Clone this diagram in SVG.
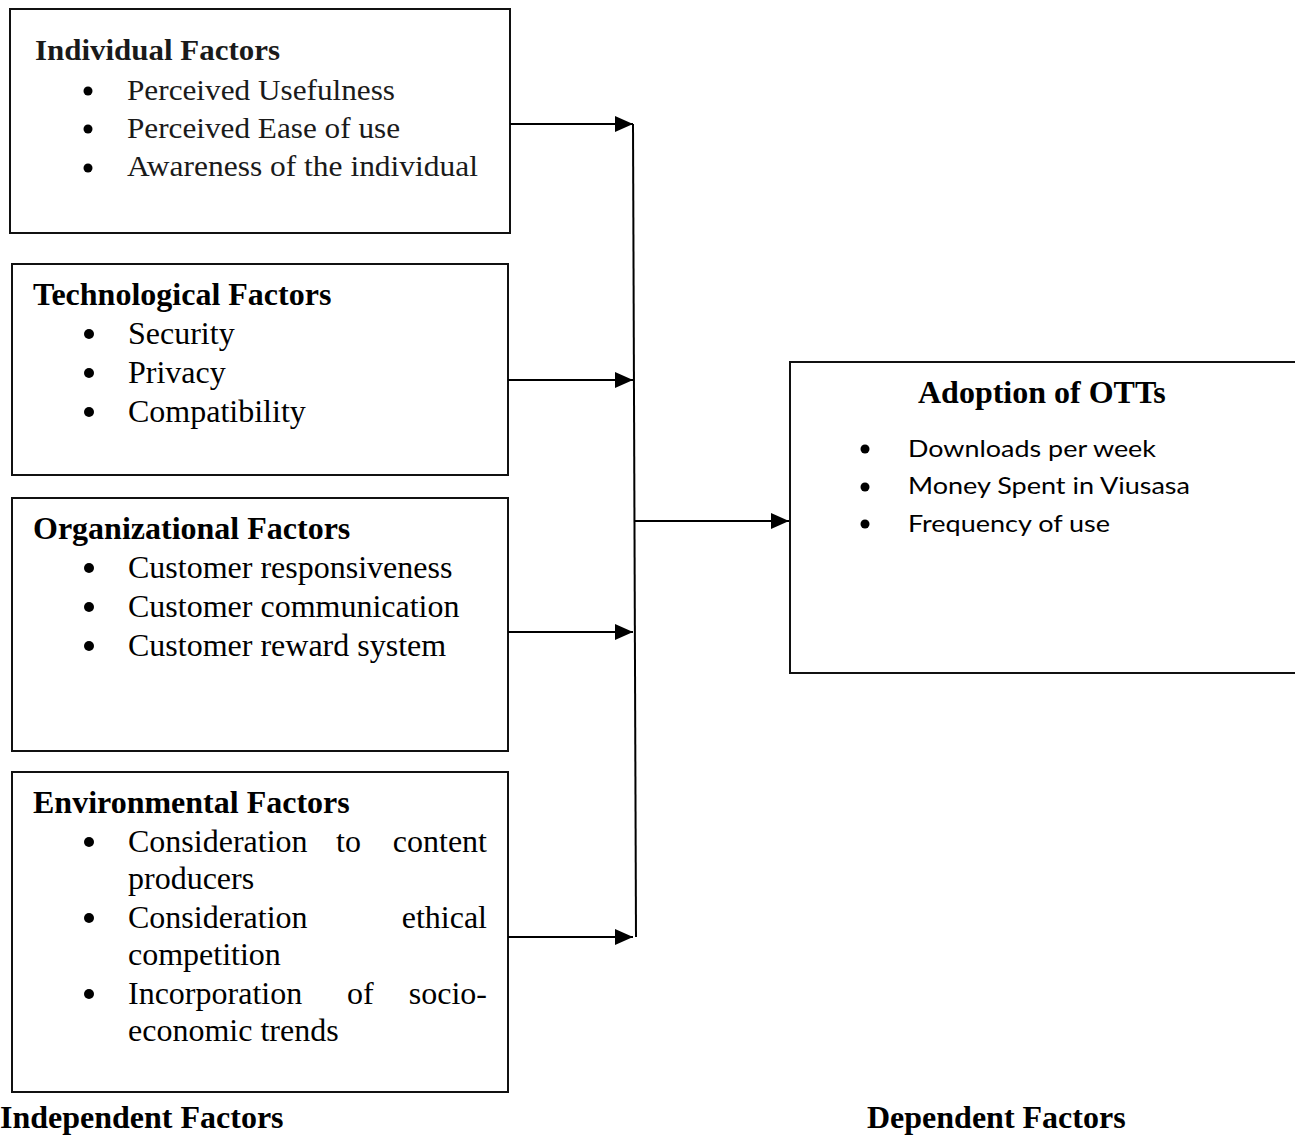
<svg xmlns="http://www.w3.org/2000/svg" width="1295" height="1135" viewBox="0 0 1295 1135">
<style>
.box{fill:#fff;stroke:#111;stroke-width:2}
.hd{font-family:"Liberation Serif","Times New Roman",serif;font-weight:bold;font-size:32px;fill:#000}
.tx{font-family:"Liberation Serif","Times New Roman",serif;font-size:32px;fill:#000}
.hd1{font-family:"Liberation Serif","Times New Roman",serif;font-weight:bold;font-size:30px;fill:#1a1a1a}
.tx1{font-family:"Liberation Serif","Times New Roman",serif;font-size:30px;fill:#1a1a1a}
.cb{font-family:Lato,"Open Sans","Liberation Sans",sans-serif;font-size:24px;fill:#000}
.ln{stroke:#000;stroke-width:2;fill:none}
.bul{fill:#000}
</style>
<defs>
<marker id="ah" markerUnits="userSpaceOnUse" markerWidth="18" markerHeight="16" refX="18" refY="8" orient="auto">
<path d="M0,0 L18,8 L0,16 Z" fill="#000"/>
</marker>
</defs>

<g id="individual">
<rect class="box" x="10" y="9" width="500" height="224"/>
<text class="hd1" x="35" y="60" textLength="245" lengthAdjust="spacingAndGlyphs">Individual Factors</text>
<circle class="bul" cx="88" cy="91" r="4.5"/>
<circle class="bul" cx="88" cy="129" r="4.5"/>
<circle class="bul" cx="88" cy="168" r="4.5"/>
<text class="tx1" x="127" y="100" textLength="268" lengthAdjust="spacingAndGlyphs">Perceived Usefulness</text>
<text class="tx1" x="127" y="138" textLength="273" lengthAdjust="spacingAndGlyphs">Perceived Ease of use</text>
<text class="tx1" x="127" y="176" textLength="351" lengthAdjust="spacingAndGlyphs">Awareness of the individual</text>
</g>

<g id="technological">
<rect class="box" x="12" y="264" width="496" height="211"/>
<text class="hd" x="33" y="305">Technological Factors</text>
<circle class="bul" cx="89" cy="334" r="5"/>
<circle class="bul" cx="89" cy="373" r="5"/>
<circle class="bul" cx="89" cy="412" r="5"/>
<text class="tx" x="128" y="344">Security</text>
<text class="tx" x="128" y="383">Privacy</text>
<text class="tx" x="128" y="422">Compatibility</text>
</g>

<g id="organizational">
<rect class="box" x="12" y="498" width="496" height="253"/>
<text class="hd" x="33" y="539">Organizational Factors</text>
<circle class="bul" cx="89" cy="568" r="5"/>
<circle class="bul" cx="89" cy="607" r="5"/>
<circle class="bul" cx="89" cy="646" r="5"/>
<text class="tx" x="128" y="578">Customer responsiveness</text>
<text class="tx" x="128" y="617">Customer communication</text>
<text class="tx" x="128" y="656">Customer reward system</text>
</g>

<g id="environmental">
<rect class="box" x="12" y="772" width="496" height="320"/>
<text class="hd" x="33" y="813">Environmental Factors</text>
<circle class="bul" cx="89" cy="842" r="5"/>
<circle class="bul" cx="89" cy="918" r="5"/>
<circle class="bul" cx="89" cy="994" r="5"/>
<text class="tx" y="852"><tspan x="128">Consideration</tspan><tspan x="336">to</tspan><tspan x="487" text-anchor="end">content</tspan></text>
<text class="tx" x="128" y="889">producers</text>
<text class="tx" y="928"><tspan x="128">Consideration</tspan><tspan x="487" text-anchor="end">ethical</tspan></text>
<text class="tx" x="128" y="965">competition</text>
<text class="tx" y="1004"><tspan x="128">Incorporation</tspan><tspan x="347">of</tspan><tspan x="487" text-anchor="end">socio-</tspan></text>
<text class="tx" x="128" y="1041">economic trends</text>
</g>

<g id="adoption">
<rect class="box" x="790" y="362" width="510" height="311"/>
<text class="hd" x="918" y="403">Adoption of OTTs</text>
<circle class="bul" cx="865" cy="449" r="4.5"/>
<circle class="bul" cx="865" cy="487" r="4.5"/>
<circle class="bul" cx="865" cy="524" r="4.5"/>
<text class="cb" x="908" y="457" textLength="248" lengthAdjust="spacingAndGlyphs">Downloads per week</text>
<text class="cb" x="908" y="494" textLength="282" lengthAdjust="spacingAndGlyphs">Money Spent in Viusasa</text>
<text class="cb" x="908" y="532" textLength="202" lengthAdjust="spacingAndGlyphs">Frequency of use</text>
</g>

<g id="labels">
<text class="hd" x="0" y="1128">Independent Factors</text>
<text class="hd" x="867" y="1128">Dependent Factors</text>
</g>

<g id="connectors">
<line class="ln" x1="510" y1="124" x2="633" y2="124" marker-end="url(#ah)"/>
<line class="ln" x1="508" y1="380" x2="633" y2="380" marker-end="url(#ah)"/>
<line class="ln" x1="508" y1="632" x2="633" y2="632" marker-end="url(#ah)"/>
<line class="ln" x1="508" y1="937" x2="633" y2="937" marker-end="url(#ah)"/>
<line class="ln" x1="633" y1="124" x2="636" y2="937"/>
<line class="ln" x1="634" y1="521" x2="789" y2="521" marker-end="url(#ah)"/>
</g>
</svg>
